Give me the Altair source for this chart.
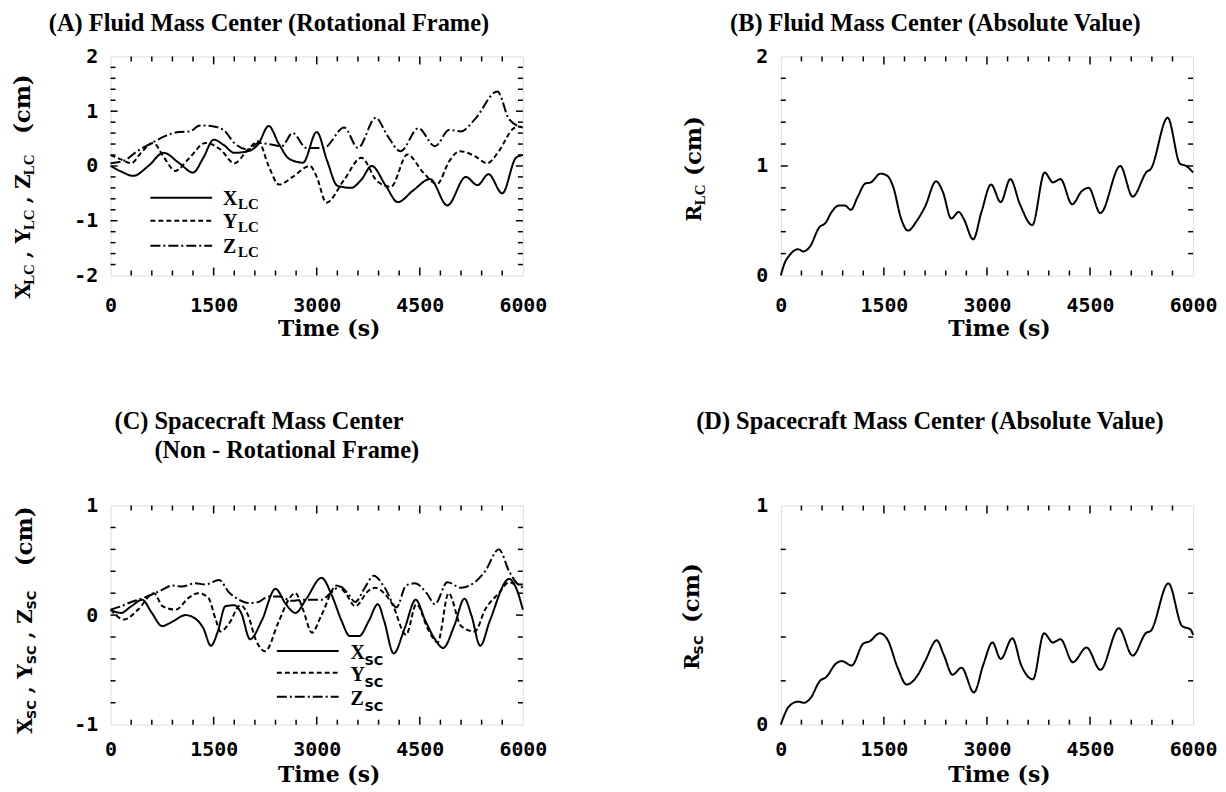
import altair as alt
import pandas as pd

# ---------------- values ----------------
# (A) fluid mass centre, rotational frame
T_XLC = [0, 150, 330, 550, 770, 1000, 1200, 1350, 1500, 1650, 1800, 2000, 2150, 2300, 2450, 2600, 2800,
         3000, 3150, 3300, 3500, 3650, 3800, 4000, 4180, 4400, 4650, 4900, 5170, 5340, 5500, 5700, 5900, 6000]
V_XLC = [0.0, -0.1, -0.18, 0.0, 0.24, 0.05, -0.12, 0.15, 0.48, 0.38, 0.24, 0.27, 0.4, 0.73, 0.4, 0.13, 0.06,
         0.62, 0.1, -0.36, -0.4, -0.25, 0.0, -0.35, -0.66, -0.45, -0.24, -0.72, -0.2, -0.35, -0.15, -0.5, 0.15, 0.2]
T_YLC = [0, 150, 300, 450, 620, 780, 940, 1150, 1380, 1600, 1800, 2000, 2150, 2300, 2450, 2650, 2900, 3000,
         3140, 3400, 3650, 3880, 4080, 4320, 4550, 4750, 4930, 5080, 5300, 5480, 5650, 5850, 5920, 6000]
V_YLC = [0.2, 0.12, 0.05, 0.25, 0.42, 0.15, -0.09, 0.15, 0.42, 0.3, 0.05, 0.3, 0.45, 0.0, -0.34, -0.2, 0.0, -0.2,
         -0.67, -0.25, 0.15, -0.28, -0.38, 0.21, -0.12, -0.33, 0.09, 0.27, 0.18, 0.05, 0.27, 0.67, 0.72, 0.7]
T_ZLC = [0, 200, 400, 600, 800, 1000, 1150, 1300, 1500, 1650, 1800, 2000, 2150, 2300, 2490, 2650, 2850, 3100,
         3400, 3600, 3860, 4030, 4220, 4480, 4720, 4930, 5100, 5300, 5630, 5800, 6000]
V_ZLC = [0.05, 0.1, 0.28, 0.42, 0.55, 0.62, 0.63, 0.74, 0.72, 0.65, 0.42, 0.3, 0.42, 0.4, 0.36, 0.6, 0.33, 0.33,
         0.7, 0.33, 0.88, 0.55, 0.27, 0.69, 0.36, 0.66, 0.63, 0.85, 1.36, 0.85, 0.7]

# (B) fluid mass centre, absolute value
T_RLC = [0, 60, 120, 250, 330, 420, 560, 650, 740, 850, 930, 1020, 1120, 1230, 1310, 1450, 1550, 1640, 1750,
         1850, 1980, 2100, 2260, 2360, 2480, 2590, 2660, 2800, 2920, 3060, 3200, 3340, 3480, 3660, 3840, 3960,
         4070, 4240, 4380, 4480, 4650, 4940, 5120, 5330, 5380, 5630, 5810, 5900, 6000]
V_RLC = [0.0, 0.12, 0.18, 0.24, 0.22, 0.26, 0.44, 0.48, 0.58, 0.64, 0.64, 0.6, 0.72, 0.84, 0.85, 0.93, 0.91,
         0.8, 0.52, 0.41, 0.5, 0.63, 0.86, 0.76, 0.52, 0.58, 0.52, 0.33, 0.58, 0.83, 0.67, 0.88, 0.65, 0.46,
         0.94, 0.85, 0.88, 0.65, 0.77, 0.8, 0.57, 1.0, 0.72, 0.95, 0.97, 1.44, 1.02, 1.0, 0.94]

# (C) spacecraft mass centre, non-rotational frame
T_XSC = [0, 150, 300, 460, 600, 750, 900, 1090, 1250, 1350, 1460, 1560, 1670, 1800, 1900, 2030, 2200, 2400,
         2550, 2690, 2850, 3070, 3220, 3360, 3480, 3620, 3760, 3890, 3980, 4120, 4280, 4440, 4580, 4720, 4840,
         5000, 5150, 5250, 5380, 5520, 5800, 5900, 6000]
V_XSC = [0.05, 0.02, 0.08, 0.14, 0.02, -0.1, -0.06, 0.0, -0.04, -0.12, -0.28, -0.15, 0.08, 0.09, 0.02, -0.22,
         -0.05, 0.24, 0.1, 0.02, 0.15, 0.34, 0.18, -0.05, -0.19, -0.19, -0.05, 0.1, -0.05, -0.35, -0.12, 0.14,
         -0.05, -0.22, -0.3, -0.1, 0.15, 0.0, -0.28, -0.05, 0.33, 0.25, 0.05]
T_YSC = [0, 200, 400, 630, 760, 950, 1140, 1280, 1420, 1530, 1600, 1720, 1890, 2000, 2110, 2250, 2440, 2600,
         2690, 2800, 2930, 3070, 3290, 3420, 3560, 3750, 3850, 3980, 4100, 4300, 4450, 4620, 4760, 4920, 5100,
         5300, 5450, 5650, 5800, 5900, 6000]
V_YSC = [0.05, -0.04, 0.05, 0.2, 0.08, 0.05, 0.16, 0.2, 0.16, -0.04, -0.15, -0.08, 0.09, 0.0, -0.22, -0.33,
         -0.07, 0.15, 0.2, 0.05, -0.16, 0.0, 0.27, 0.2, 0.08, 0.22, 0.25, 0.2, 0.1, -0.18, 0.1, -0.13, -0.25,
         0.2, -0.1, -0.15, 0.05, 0.2, 0.3, 0.28, 0.28]
T_ZSC = [0, 150, 300, 450, 610, 750, 900, 1040, 1230, 1380, 1580, 1720, 1870, 2010, 2150, 2300, 2450, 2640,
         2800, 3070, 3200, 3340, 3450, 3560, 3700, 3830, 3990, 4160, 4300, 4430, 4600, 4720, 4900, 5100, 5300,
         5450, 5650, 5800, 5900, 6000]
V_ZSC = [0.05, 0.08, 0.12, 0.15, 0.19, 0.23, 0.27, 0.26, 0.29, 0.28, 0.32, 0.21, 0.14, 0.11, 0.12, 0.17, 0.17,
         0.13, 0.14, 0.14, 0.2, 0.26, 0.2, 0.12, 0.25, 0.36, 0.25, 0.07, 0.27, 0.29, 0.2, 0.1, 0.3, 0.25, 0.3,
         0.4, 0.6, 0.4, 0.3, 0.25]

# (D) spacecraft mass centre, absolute value
T_RSC = [0, 60, 110, 250, 340, 430, 570, 660, 800, 890, 1030, 1200, 1290, 1440, 1550, 1700, 1830, 1990, 2100,
         2270, 2370, 2500, 2630, 2810, 2950, 3080, 3200, 3370, 3500, 3670, 3830, 3960, 4070, 4250, 4450, 4650,
         4920, 5120, 5320, 5380, 5640, 5840, 5960, 6000]
V_RSC = [0.0, 0.05, 0.08, 0.105, 0.1, 0.12, 0.2, 0.217, 0.278, 0.29, 0.27, 0.37, 0.38, 0.417, 0.39, 0.26,
         0.183, 0.225, 0.29, 0.385, 0.32, 0.228, 0.26, 0.147, 0.277, 0.375, 0.3, 0.394, 0.27, 0.207, 0.417,
         0.375, 0.39, 0.285, 0.352, 0.25, 0.44, 0.315, 0.42, 0.427, 0.645, 0.45, 0.435, 0.41]

# tick positions and labels
X_LABELS = [0, 1500, 3000, 4500, 6000]
X_MINOR = [300, 600, 900, 1200, 1800, 2100, 2400, 2700, 3300, 3600, 3900, 4200, 4800, 5100, 5400, 5700]
X_MAJOR = [1500, 3000, 4500]
A_YLABELS = [-2, -1, 0, 1, 2]
A_YMINOR = [-1.8, -1.6, -1.4, -1.2, -0.8, -0.6, -0.4, -0.2, 0.2, 0.4, 0.6, 0.8, 1.2, 1.4, 1.6, 1.8]
A_YMAJOR = [-1, 0, 1]
B_YLABELS = [0, 1, 2]
B_YMINOR = [0.2, 0.4, 0.6, 0.8, 1.2, 1.4, 1.6, 1.8]
B_YMAJOR = [1]
C_YLABELS = [-1, 0, 1]
C_YMINOR = [-0.8, -0.6, -0.4, -0.2, 0.2, 0.4, 0.6, 0.8]
C_YMAJOR = [0]
D_YLABELS = [0, 1]
D_YMINOR = [0.2, 0.4, 0.6, 0.8]
D_YMAJOR = []

# titles
TITLE_A = "(A) Fluid Mass Center (Rotational Frame)"
TITLE_B = "(B) Fluid Mass Center (Absolute Value)"
TITLE_C1 = "(C) Spacecraft Mass Center"
TITLE_C2 = "(Non - Rotational Frame)"
TITLE_D = "(D) Spacecraft Mass Center (Absolute Value)"

# ---------------- styling ----------------
W, H = 414, 220
INK = "black"
MONO = "DejaVu Sans Mono"
TSERIF = "Liberation Serif"
ASERIF = "DejaVu Serif"
SANS = "DejaVu Sans"
SOLID, DASHED, DASHDOT = [1, 0], [5, 3], [10, 3, 2, 3]
DUMMY = pd.DataFrame({"k": [0]})
TFS = 24.5  # panel title font size


def txt(s, x, y, size, font, angle=0, align="left", baseline="alphabetic"):
    return alt.Chart(DUMMY).mark_text(
        text=s, font=font, fontSize=size, fontWeight="bold", angle=angle,
        align=align, baseline=baseline, color=INK,
    ).encode(x=alt.value(x), y=alt.value(y))


def hrule(x0, x1, y, dash):
    return alt.Chart(DUMMY).mark_rule(color=INK, strokeWidth=2, strokeDash=dash).encode(
        x=alt.value(x0), x2=alt.value(x1), y=alt.value(y))


def panel(series, ydom, ylabels, yminor, ymajor, xlab_pad, xtitle_y, extras):
    xs = alt.Scale(domain=[0, 6000], nice=False, zero=False)
    ys = alt.Scale(domain=ydom, nice=False, zero=False)
    xaxis = alt.Axis(
        values=X_LABELS, labelExpr="'' + datum.value", ticks=False, tickSize=0, domain=False, grid=False,
        labelFont=MONO, labelFontSize=20, labelFontWeight="bold", labelColor=INK,
        labelPadding=xlab_pad, labelFlush=False, labelOverlap=False,
        title="Time (s)", titleFont=ASERIF, titleFontSize=22, titleFontWeight="bold", titleColor=INK,
        titleBaseline="alphabetic", titleX=W / 2 + 12, titleY=xtitle_y,
    )
    yaxis = alt.Axis(
        values=ylabels, labelExpr="'' + datum.value", ticks=False, tickSize=0, domain=False, grid=False,
        labelFont=MONO, labelFontSize=20, labelFontWeight="bold", labelColor=INK,
        labelPadding=13, labelFlush=False, labelOverlap=False, title=None,
    )
    layers = []
    for ts, vs, dash in series:
        df = pd.DataFrame({"t": ts, "v": vs})
        layers.append(
            alt.Chart(df).mark_line(color=INK, strokeWidth=2, interpolate="monotone", strokeDash=dash).encode(
                x=alt.X("t:Q", scale=xs, axis=xaxis), y=alt.Y("v:Q", scale=ys, axis=yaxis)))
    for vals, ln in ((X_MINOR, 5), (X_MAJOR, 8)):
        d = alt.Chart(pd.DataFrame({"t": vals})).mark_rule(color=INK, strokeWidth=1.5)
        layers.append(d.encode(x=alt.X("t:Q", scale=xs, axis=xaxis), y=alt.value(H), y2=alt.value(H - ln)))
        layers.append(d.encode(x=alt.X("t:Q", scale=xs, axis=xaxis), y=alt.value(0), y2=alt.value(ln)))
    for vals, ln in ((yminor, 5), (ymajor, 7)):
        if not vals:
            continue
        d = alt.Chart(pd.DataFrame({"v": vals})).mark_rule(color=INK, strokeWidth=1.5)
        layers.append(d.encode(y=alt.Y("v:Q", scale=ys, axis=yaxis), x=alt.value(0), x2=alt.value(ln)))
        layers.append(d.encode(y=alt.Y("v:Q", scale=ys, axis=yaxis), x=alt.value(W), x2=alt.value(W - ln)))
    layers += extras
    return alt.layer(*layers).properties(width=W, height=H)


# ---------------- panel A ----------------
a_extra = [
    txt(TITLE_A, -62, -26, TFS, TSERIF),
    hrule(40, 102, 142, SOLID), hrule(40, 102, 165, DASHED), hrule(40, 102, 190, DASHDOT),
    txt("X", 113, 149, 20, TSERIF), txt("LC", 128, 153, 15, TSERIF),
    txt("Y", 113, 172, 20, TSERIF), txt("LC", 128, 176, 15, TSERIF),
    txt("Z", 113, 197, 20, TSERIF), txt("LC", 128, 201, 15, TSERIF),
    txt("X", -81, 235.5, 20, ASERIF, 270, "center"), txt("LC", -77, 219, 15, TSERIF, 270, "center"),
    txt(",", -81, 199, 20, ASERIF, 270, "center"),
    txt("Y", -81, 180.5, 20, ASERIF, 270, "center"), txt("LC", -77, 164, 15, TSERIF, 270, "center"),
    txt(",", -81, 144, 20, ASERIF, 270, "center"),
    txt("Z", -81, 125.5, 20, ASERIF, 270, "center"), txt("LC", -77, 109, 15, TSERIF, 270, "center"),
    txt("(cm)", -81, 48, 23, ASERIF, 270, "center"),
]
chart_a = panel(
    [(T_XLC, V_XLC, SOLID), (T_YLC, V_YLC, DASHED), (T_ZLC, V_ZLC, DASHDOT)],
    [-2, 2], A_YLABELS, A_YMINOR, A_YMAJOR, 20, 60, a_extra)

# ---------------- panel B ----------------
b_extra = [
    txt(TITLE_B, -51, -26, TFS, TSERIF),
    txt("R", -80, 157.5, 20, ASERIF, 270, "center"), txt("LC", -76, 139, 15, TSERIF, 270, "center"),
    txt("(cm)", -80, 90, 23, ASERIF, 270, "center"),
]
chart_b = panel(
    [(T_RLC, V_RLC, SOLID)], [0, 2], B_YLABELS, B_YMINOR, B_YMAJOR, 20, 60, b_extra)

# ---------------- panel C ----------------
c_extra = [
    txt(TITLE_C1, 4, -77, TFS, TSERIF),
    txt(TITLE_C2, 44, -48, TFS, TSERIF),
    hrule(167, 229, 146, SOLID), hrule(167, 229, 168, DASHED), hrule(167, 229, 192, DASHDOT),
    txt("X", 241, 154, 20, TSERIF), txt("SC", 255, 160, 13, SANS),
    txt("Y", 241, 176, 20, TSERIF), txt("SC", 255, 182, 13, SANS),
    txt("Z", 241, 200, 20, TSERIF), txt("SC", 255, 206, 13, SANS),
    txt("X", -79, 221.5, 20, ASERIF, 270, "center"), txt("SC", -75, 205, 13, SANS, 270, "center"),
    txt(",", -79, 185, 20, ASERIF, 270, "center"),
    txt("Y", -79, 166.5, 20, ASERIF, 270, "center"), txt("SC", -75, 150, 13, SANS, 270, "center"),
    txt(",", -79, 130, 20, ASERIF, 270, "center"),
    txt("Z", -79, 111.5, 20, ASERIF, 270, "center"), txt("SC", -75, 95, 13, SANS, 270, "center"),
    txt("(cm)", -79, 31, 23, ASERIF, 270, "center"),
]
chart_c = panel(
    [(T_XSC, V_XSC, SOLID), (T_YSC, V_YSC, DASHED), (T_ZSC, V_ZSC, DASHDOT)],
    [-1, 1], C_YLABELS, C_YMINOR, C_YMAJOR, 15, 57, c_extra)

# ---------------- panel D ----------------
d_extra = [
    txt(TITLE_D, -85, -77, TFS, TSERIF),
    txt("R", -82, 156.5, 20, ASERIF, 270, "center"), txt("SC", -78, 140, 13, SANS, 270, "center"),
    txt("(cm)", -82, 88, 23, ASERIF, 270, "center"),
]
chart_d = panel(
    [(T_RSC, V_RSC, SOLID)], [0, 1], D_YLABELS, D_YMINOR, D_YMAJOR, 15, 57, d_extra)

chart = alt.concat(
    chart_a, chart_b, chart_c, chart_d, columns=2,
    spacing={"row": 231, "column": 259}, bounds="flush",
).properties(
    padding={"left": 3, "top": 0, "right": 0, "bottom": 0},
).configure_view(stroke=INK, strokeWidth=2).configure(background="white")

chart.save("out.html", embed_options={"renderer": "svg", "actions": False})
